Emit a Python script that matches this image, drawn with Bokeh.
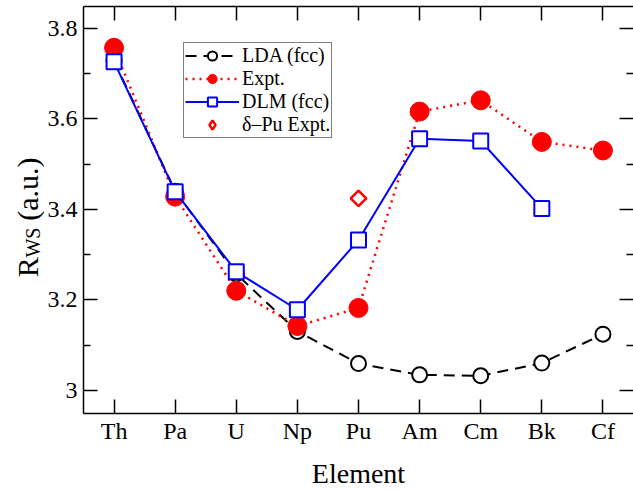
from bokeh.plotting import figure
from bokeh.models import Range1d, LinearAxis, FixedTicker, Legend, LegendItem
from bokeh.layouts import row
from bokeh.core.properties import value
from bokeh.embed import file_html
from bokeh.resources import INLINE
import math

elements = ["Th", "Pa", "U", "Np", "Pu", "Am", "Cm", "Bk", "Cf"]
lda = [3.728, 3.440, 3.257, 3.130, 3.059, 3.034, 3.032, 3.060, 3.124]
expt = [3.757, 3.428, 3.220, 3.142, 3.182, 3.616, 3.641, 3.549, 3.530]
dlm_elements = ["Th", "Pa", "U", "Np", "Pu", "Am", "Cm", "Bk"]
dlm = [3.726, 3.439, 3.262, 3.178, 3.332, 3.556, 3.551, 3.402]
delta_elements = ["Pu"]
delta_pu = [3.424]
y_major = [3.0, 3.2, 3.4, 3.6, 3.8]
y_minor = [3.1, 3.3, 3.5, 3.7]
y_labels = ["3", "3.2", "3.4", "3.6", "3.8"]

FONT = "Liberation Serif"

x_all = list(range(len(elements)))
x_dlm = [elements.index(e) for e in dlm_elements]
x_delta = [elements.index(e) for e in delta_elements]

LW = 44  # width of the strip that carries the y-axis title
yr = Range1d(2.9486, 3.8483)

p = figure(width=633 - LW, height=491,
           x_range=Range1d(-0.5, 8.5), y_range=yr,
           output_backend="svg", toolbar_location=None,
           min_border_left=81 - LW, min_border_right=0, min_border_top=6, min_border_bottom=70)
p.grid.visible = False
p.outline_line_color = None
p.background_fill_color = "white"
p.border_fill_color = "white"

xt = FixedTicker(ticks=x_all, minor_ticks=[])
yt = FixedTicker(ticks=y_major, minor_ticks=y_minor)

def style_axis(ax, spine=True):
    ax.axis_line_color = "black" if spine else None
    ax.axis_line_width = 1.5
    ax.major_tick_in = 14
    ax.major_tick_out = 0
    ax.minor_tick_in = 7
    ax.minor_tick_out = 0
    ax.major_tick_line_width = 1.5
    ax.minor_tick_line_width = 1.5
    ax.major_tick_line_color = "black"
    ax.minor_tick_line_color = "black"
    ax.major_label_text_font = FONT
    ax.major_label_text_font_size = "24px"
    ax.major_label_text_color = "black"

# bottom x axis
p.xaxis.ticker = xt
p.xaxis.major_label_overrides = {i: e for i, e in enumerate(elements)}
style_axis(p.xaxis[0])
p.xaxis.major_label_standoff = 4
p.xaxis.axis_label = "Element"
p.xaxis.axis_label_text_font = FONT
p.xaxis.axis_label_text_font_size = "28px"
p.xaxis.axis_label_text_font_style = "normal"
p.xaxis.axis_label_text_color = "black"
p.xaxis.axis_label_standoff = 11

# left y axis
p.yaxis.ticker = yt
p.yaxis.major_label_overrides = {v: s for v, s in zip(y_major, y_labels)}
style_axis(p.yaxis[0])
p.yaxis.major_label_standoff = 6

# mirrored ticks, no labels
top = LinearAxis(ticker=xt, major_label_overrides={i: "" for i in x_all})
style_axis(top)
top.major_label_text_color = None
top.major_label_standoff = 0
p.add_layout(top, "above")
right = LinearAxis(ticker=yt, major_label_overrides={v: "" for v in y_major})
style_axis(right, spine=False)
right.major_label_text_color = None
right.major_label_standoff = 0
p.add_layout(right, "right")

# data
lda_line = p.line(x_all, lda, line_color="black", line_width=2, line_dash="11 7")
lda_pts = p.scatter(x_all, lda, marker="circle", size=15, fill_color="white",
                    line_color="black", line_width=2)
expt_line = p.line(x_all, expt, line_color="red", line_width=2.5, line_dash="2 5")
expt_pts = p.scatter(x_all, expt, marker="circle", size=19, fill_color="red",
                     line_color="red", line_width=1)
dlm_line = p.line(x_dlm, dlm, line_color="blue", line_width=2)
dlm_pts = p.scatter(x_dlm, dlm, marker="square", size=15, fill_color="white",
                    line_color="blue", line_width=2)
delta_pts = p.scatter(x_delta, delta_pu, marker="square", angle=math.pi / 4, size=11,
                      fill_color=None, line_color="red", line_width=2.5)
# same point as a hidden diamond glyph: only used to draw the diamond key in the legend
delta_key = p.scatter(x_delta, delta_pu, marker="diamond", size=14,
                      fill_color=None, line_color="red", line_width=2.5, visible=False)

legend = Legend(items=[
    LegendItem(label="LDA (fcc)", renderers=[lda_line, lda_pts]),
    LegendItem(label="Expt.", renderers=[expt_line, expt_pts]),
    LegendItem(label="DLM (fcc)", renderers=[dlm_line, dlm_pts]),
    LegendItem(label="\u03b4\u2013Pu Expt.", renderers=[delta_key]),
], location=(100, 275))
legend.label_text_font = FONT
legend.label_text_font_size = "20px"
legend.label_text_color = "black"
legend.glyph_width = 54
legend.glyph_height = 23
legend.label_height = 23
legend.spacing = 0
legend.padding = 1
legend.margin = 0
legend.label_standoff = 3
legend.border_line_color = "black"
legend.border_line_width = 1.5
legend.background_fill_color = "white"
legend.background_fill_alpha = 1
legend.inactive_fill_alpha = 0
legend.click_policy = "none"
p.add_layout(legend)

# strip with the rotated y-axis title R_WS (a.u.)
t = figure(width=LW, height=491, x_range=Range1d(0, LW), y_range=yr,
           output_backend="svg", toolbar_location=None,
           min_border_left=0, min_border_right=0, min_border_top=6, min_border_bottom=70)
t.axis.visible = False
t.grid.visible = False
t.outline_line_color = None
t.background_fill_color = "white"
t.border_fill_color = "white"

def ylab(text, x, y, size):
    t.text(x=[x], y=[y], text=[text], angle=math.pi / 2,
           text_font=value(FONT), text_font_size=value(size),
           text_align="left", text_baseline="middle", text_color="black")

ylab("R", 27, 3.2500, "30px")
ylab("WS", 32.5, 3.2934, "20px")
ylab("(a.u.)", 27, 3.3747, "30px")

layout = row(t, p, spacing=0)
open("out.html", "w").write(file_html(layout, INLINE))
